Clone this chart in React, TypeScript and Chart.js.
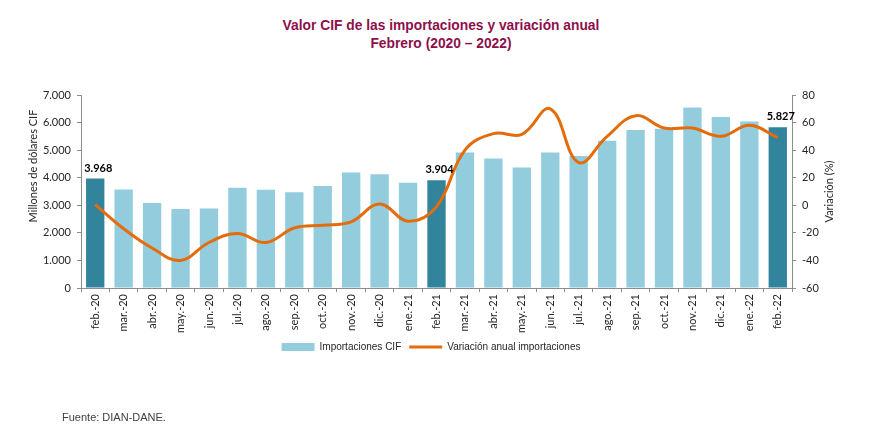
import React, { useEffect, useRef } from 'react'
import { Chart, registerables } from 'chart.js'

Chart.register(...registerables)

// Data
const months = [
  'feb.-20', 'mar.-20', 'abr.-20', 'may.-20', 'jun.-20', 'jul.-20', 'ago.-20',
  'sep.-20', 'oct.-20', 'nov.-20', 'dic.-20', 'ene.-21', 'feb.-21', 'mar.-21',
  'abr.-21', 'may.-21', 'jun.-21', 'jul.-21', 'ago.-21', 'sep.-21', 'oct.-21',
  'nov.-21', 'dic.-21', 'ene.-22', 'feb.-22',
]
const importaciones = [
  3968, 3575, 3085, 2865, 2885, 3640, 3560, 3475, 3700, 4185, 4125, 3820, 3904,
  4915, 4695, 4370, 4915, 4790, 5340, 5730, 5780, 6550, 6205, 6040, 5827,
]
const variacion = [
  0.5, -17, -31, -40, -27, -20.5, -27, -16.5, -14.5, -12, 1, -11.5, -1,
  40, 52, 51.5, 70, 31, 50, 65, 56, 56, 50, 58, 49,
]
// months that are highlighted and labelled
const highlighted = [0, 12, 24]

const LIGHT = '#93CDDD'
const DARK = '#31849B'
const ORANGE = '#E46C0A'
const AXIS = '#8C8C8C'
const TEXT = '#262626'

const fmt = (v: number) => String(Math.round(v)).replace(/\B(?=(\d{3})+(?!\d))/g, '.')

const overlayPlugin = {
  id: 'overlay',
  afterDatasetsDraw(chart: any) {
    const ctx = chart.ctx
    const meta = chart.getDatasetMeta(0)
    ctx.save()
    ctx.font = 'bold 11px Lato'
    ctx.fillStyle = '#000'
    ctx.textAlign = 'center'
    ctx.textBaseline = 'bottom'
    highlighted.forEach((i) => {
      const el = meta.data[i]
      ctx.fillText(fmt(importaciones[i]), el.x + 3, el.y - 5)
    })
    ctx.restore()
  },
  afterDraw(chart: any) {
    const ctx = chart.ctx
    const area = chart.chartArea
    ctx.save()
    ctx.font = '11px Lato'
    ctx.fillStyle = TEXT
    ctx.textAlign = 'center'
    ctx.textBaseline = 'middle'
    ctx.translate(33, 166)
    ctx.rotate(-Math.PI / 2)
    ctx.fillText('Millones de dólares CIF', 0, 0)
    ctx.restore()
    ctx.save()
    ctx.font = '11px Lato'
    ctx.fillStyle = TEXT
    ctx.textAlign = 'center'
    ctx.textBaseline = 'middle'
    ctx.translate(829, (area.top + area.bottom) / 2)
    ctx.rotate(-Math.PI / 2)
    ctx.fillText('Variación (%)', 0, 0)
    ctx.restore()
  },
}

const App = () => {
  const chartRef = useRef<HTMLCanvasElement>(null)

  useEffect(() => {
    if (!chartRef.current) return
    const ctx = chartRef.current.getContext('2d')
    if (!ctx) return

    const chart = new Chart(ctx, {
      type: 'bar',
      data: {
        labels: months,
        datasets: [
          {
            type: 'bar',
            label: 'Importaciones CIF',
            data: importaciones,
            backgroundColor: importaciones.map((_, i) => (highlighted.includes(i) ? DARK : LIGHT)),
            borderWidth: 0,
            categoryPercentage: 1,
            barPercentage: 0.645,
            yAxisID: 'y',
            order: 1,
            pointStyle: 'rect',
          } as any,
          {
            type: 'line',
            label: 'Variación anual importaciones',
            data: variacion,
            borderColor: ORANGE,
            backgroundColor: ORANGE,
            borderWidth: 3,
            pointRadius: 0,
            tension: 0.4,
            yAxisID: 'y1',
            order: 0,
            pointStyle: 'line',
          } as any,
        ],
      },
      options: {
        responsive: false,
        animation: false,
        layout: { padding: { left: 20, right: 30, top: 95, bottom: 67 } },
        plugins: {
          title: { display: false },
          tooltip: { enabled: false },
          legend: {
            position: 'bottom',
            labels: {
              usePointStyle: true,
              pointStyleWidth: 33,
              boxHeight: 8,
              padding: 8,
              color: TEXT,
              font: { family: 'Liberation Sans', size: 10 },
              sort: (a: any, b: any) => a.datasetIndex - b.datasetIndex,
              generateLabels: (c: any) => {
                const items = Chart.defaults.plugins.legend.labels.generateLabels(c)
                items.forEach((it: any) => {
                  if (it.datasetIndex === 0) {
                    it.fillStyle = LIGHT
                    it.strokeStyle = LIGHT
                  }
                })
                return items
              },
            },
          },
        },
        scales: {
          x: {
            grid: { display: true, drawOnChartArea: false, color: AXIS, tickLength: 4 },
            border: { color: AXIS },
            ticks: {
              minRotation: 90,
              maxRotation: 90,
              autoSkip: false,
              color: TEXT,
              padding: 2,
              font: { family: 'Lato', size: 11 },
            },
            afterFit: (s: any) => {
              s.height = 46
            },
          },
          y: {
            position: 'left',
            min: 0,
            max: 7000,
            grid: { display: true, drawOnChartArea: false, color: AXIS, tickLength: 4 },
            border: { color: AXIS },
            ticks: {
              stepSize: 1000,
              color: TEXT,
              padding: 6,
              font: { family: 'Lato', size: 11 },
              callback: (v: any) => fmt(Number(v)),
            },
            afterFit: (s: any) => {
              s.width = 61
            },
          },
          y1: {
            position: 'right',
            min: -60,
            max: 80,
            grid: { display: true, drawOnChartArea: false, color: AXIS, tickLength: 4 },
            border: { color: AXIS },
            ticks: {
              stepSize: 20,
              color: TEXT,
              padding: 6,
              font: { family: 'Lato', size: 11 },
            },
            afterFit: (s: any) => {
              s.width = 50
            },
          },
        },
      },
      plugins: [overlayPlugin],
    })

    return () => {
      chart.destroy()
    }
  }, [])

  return (
    <div style={{ position: 'fixed', left: 0, top: 0, width: 872, height: 429, background: '#fff' }}>
      <div
        style={{
          position: 'absolute',
          left: 0,
          top: 16,
          width: 882,
          textAlign: 'center',
          fontFamily: 'Liberation Sans, Arial, sans-serif',
          fontWeight: 'bold',
          fontSize: 15,
          lineHeight: '18px',
          color: '#8E0F4B',
          transform: 'scaleX(0.92)',
          transformOrigin: '441px 0',
        }}
      >
        Valor CIF de las importaciones y variación anual
        <br />
        Febrero (2020 – 2022)
      </div>
      <canvas ref={chartRef} width={872} height={429} style={{ position: 'absolute', left: 0, top: 0 }}></canvas>
      <div
        style={{
          position: 'absolute',
          left: 62,
          top: 411,
          fontFamily: 'Liberation Sans, Arial, sans-serif',
          fontSize: 11,
          color: '#404040',
        }}
      >
        Fuente: DIAN-DANE.
      </div>
    </div>
  )
}

export default App
